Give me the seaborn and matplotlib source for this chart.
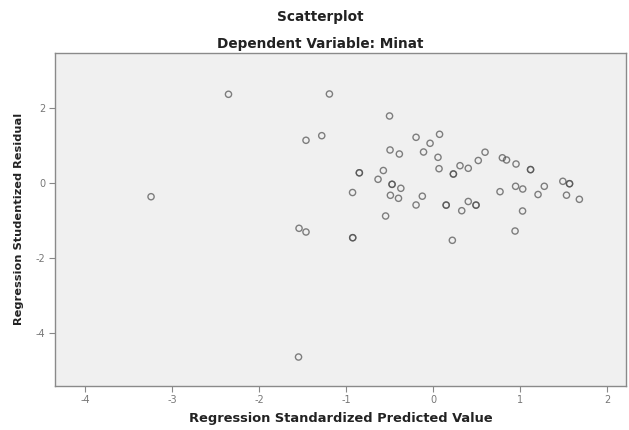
import matplotlib
matplotlib.use("Agg")
import matplotlib.pyplot as plt
import seaborn as sns
import pandas as pd

# Regression Standardized Predicted Value
pred = [-0.500, -0.195, 0.075, -0.034, -0.494, -0.387, -0.109, 0.057, 0.069, -0.571,
        -0.632, -0.471, -0.471, -0.370, -0.490, -0.397, -0.123, -0.195, -0.545, 0.234,
        0.234, 0.310, 0.405, 0.598, 0.520, 0.797, 0.845, 0.954, 1.121, 1.121,
        0.949, 1.031, 1.279, 1.207, 0.770, 1.492, 1.569, 1.569, 1.534, 1.682,
        0.151, 0.151, 0.405, 0.494, 0.494, 0.330, 1.029, 0.943, 0.222, -2.351,
        -1.191, -1.279, -1.460, -0.847, -0.847, -0.925, -3.241, -1.540, -1.460, -0.923,
        -0.923, -1.546]
# Regression Studentized Residual
resid = [1.782, 1.215, 1.295, 1.056, 0.878, 0.771, 0.824, 0.683, 0.380, 0.332,
         0.098, -0.035, -0.035, -0.141, -0.327, -0.407, -0.351, -0.585, -0.878, 0.239,
         0.239, 0.460, 0.391, 0.819, 0.598, 0.670, 0.612, 0.505, 0.356, 0.356,
         -0.088, -0.160, -0.088, -0.306, -0.231, 0.045, -0.019, -0.019, -0.324, -0.434,
         -0.588, -0.588, -0.492, -0.588, -0.588, -0.737, -0.745, -1.277, -1.524, 2.359,
         2.367, 1.258, 1.136, 0.271, 0.271, -0.253, -0.365, -1.205, -1.303, -1.455,
         -1.455, -4.628]

x_ticks = [-4, -3, -2, -1, 0, 1, 2]
y_ticks = [-4, -2, 0, 2]

title1 = "Scatterplot"
title2 = "Dependent Variable: Minat"
xlabel = "Regression Standardized Predicted Value"
ylabel = "Regression Studentized Residual"

df = pd.DataFrame({"pred": pred, "resid": resid})

sns.set_style("white")
plt.rcParams["font.family"] = ["DejaVu Sans"]

fig = plt.figure(figsize=(6.29, 4.30), dpi=100)
ax = fig.add_axes([55 / 629, 1 - 385.6 / 430, (626 - 55) / 629, (385.6 - 53) / 430])
ax.set_facecolor("#f0f0f0")

sns.scatterplot(data=df, x="pred", y="resid", ax=ax, marker="o", s=20,
                edgecolor=(0.3, 0.3, 0.3, 0.7), linewidth=1.0, legend=False)
for c in ax.collections:
    c.set_facecolor("none")

ax.set_xlim(-4.345, 2.218)
ax.set_ylim(-5.388, 3.457)
ax.set_xticks(x_ticks)
ax.set_yticks(y_ticks)
ax.set_xticklabels([str(t) for t in x_ticks])
ax.set_yticklabels([str(t) for t in y_ticks])
ax.tick_params(axis="both", direction="out", length=4, width=0.8, color="#888888",
               labelsize=7, labelcolor="#777777", pad=3)
ax.tick_params(left=True, bottom=True)
for sp in ax.spines.values():
    sp.set_color("#8a8a8a")
    sp.set_linewidth(1.0)

ax.set_xlabel(xlabel, fontsize=9.4, fontweight="bold", color="#222222", labelpad=5)
ax.set_ylabel(ylabel, fontsize=8.2, fontweight="bold", color="#222222", labelpad=8)

fig.text(320 / 629, 1 - 17 / 430, title1, ha="center", va="center",
         fontsize=9.8, fontweight="bold", color="#222222")
fig.text(320 / 629, 1 - 44 / 430, title2, ha="center", va="center",
         fontsize=9.8, fontweight="bold", color="#222222")

fig.savefig("out.png", dpi=100, facecolor="white")
